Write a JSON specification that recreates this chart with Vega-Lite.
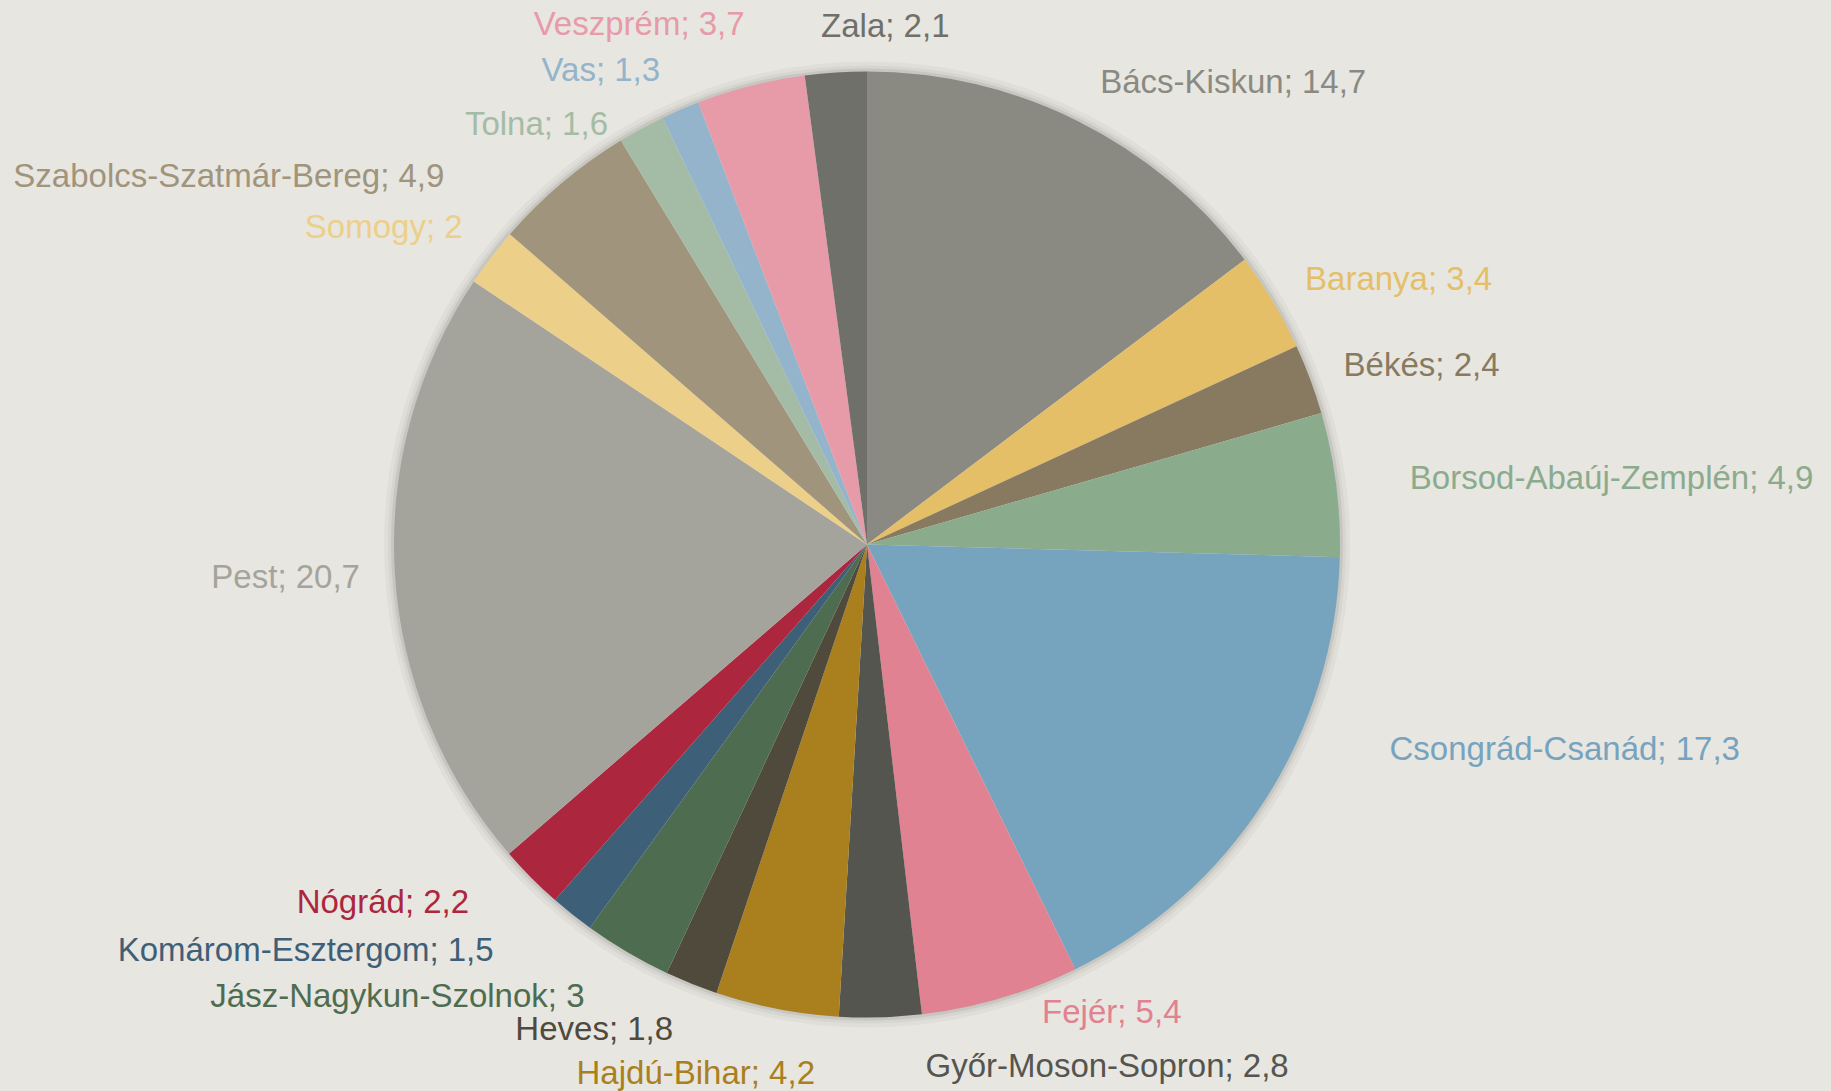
{
  "$schema": "https://vega.github.io/schema/vega-lite/v6.json",
  "width": 1734,
  "height": 1089,
  "autosize": {"type": "none"},
  "padding": {"left": 0, "top": 0, "right": 97, "bottom": 2},
  "background": "#E8E6E0",
  "config": {"view": {"stroke": null}},
  "datasets": {
    "counties": [
      {"order": 1, "name": "Bács-Kiskun", "value": 14.7, "label": "Bács-Kiskun; 14,7"},
      {"order": 2, "name": "Baranya", "value": 3.4, "label": "Baranya; 3,4"},
      {"order": 3, "name": "Békés", "value": 2.4, "label": "Békés; 2,4"},
      {"order": 4, "name": "Borsod-Abaúj-Zemplén", "value": 4.9, "label": "Borsod-Abaúj-Zemplén; 4,9"},
      {"order": 5, "name": "Csongrád-Csanád", "value": 17.3, "label": "Csongrád-Csanád; 17,3"},
      {"order": 6, "name": "Fejér", "value": 5.4, "label": "Fejér; 5,4"},
      {"order": 7, "name": "Győr-Moson-Sopron", "value": 2.8, "label": "Győr-Moson-Sopron; 2,8"},
      {"order": 8, "name": "Hajdú-Bihar", "value": 4.2, "label": "Hajdú-Bihar; 4,2"},
      {"order": 9, "name": "Heves", "value": 1.8, "label": "Heves; 1,8"},
      {"order": 10, "name": "Jász-Nagykun-Szolnok", "value": 3.0, "label": "Jász-Nagykun-Szolnok; 3"},
      {"order": 11, "name": "Komárom-Esztergom", "value": 1.5, "label": "Komárom-Esztergom; 1,5"},
      {"order": 12, "name": "Nógrád", "value": 2.2, "label": "Nógrád; 2,2"},
      {"order": 13, "name": "Pest", "value": 20.7, "label": "Pest; 20,7"},
      {"order": 14, "name": "Somogy", "value": 2.0, "label": "Somogy; 2"},
      {"order": 15, "name": "Szabolcs-Szatmár-Bereg", "value": 4.9, "label": "Szabolcs-Szatmár-Bereg; 4,9"},
      {"order": 16, "name": "Tolna", "value": 1.6, "label": "Tolna; 1,6"},
      {"order": 17, "name": "Vas", "value": 1.3, "label": "Vas; 1,3"},
      {"order": 18, "name": "Veszprém", "value": 3.7, "label": "Veszprém; 3,7"},
      {"order": 19, "name": "Zala", "value": 2.1, "label": "Zala; 2,1"}
    ]
  },
  "layer": [
    {
      "data": {"values": [{"v": 1}]},
      "mark": {"type": "arc", "outerRadius": 473, "fill": null, "stroke": "#000000", "strokeOpacity": 0.03, "strokeWidth": 20},
      "encoding": {"theta": {"field": "v", "type": "quantitative", "scale": {"domain": [0, 1]}}}
    },
    {
      "data": {"values": [{"v": 1}]},
      "mark": {"type": "arc", "outerRadius": 473, "fill": null, "stroke": "#000000", "strokeOpacity": 0.04, "strokeWidth": 12},
      "encoding": {"theta": {"field": "v", "type": "quantitative", "scale": {"domain": [0, 1]}}}
    },
    {
      "data": {"values": [{"v": 1}]},
      "mark": {"type": "arc", "outerRadius": 473, "fill": null, "stroke": "#000000", "strokeOpacity": 0.07, "strokeWidth": 6},
      "encoding": {"theta": {"field": "v", "type": "quantitative", "scale": {"domain": [0, 1]}}}
    },
    {
      "layer": [
        {
          "data": {"name": "counties"},
          "mark": {"type": "arc", "outerRadius": 473},
          "encoding": {
            "theta": {"field": "value", "type": "quantitative", "stack": true},
            "order": {"field": "order", "type": "quantitative"},
            "color": {"field": "name", "type": "nominal", "legend": null, "sort": null,
              "scale": {
                "domain": ["Bács-Kiskun","Baranya","Békés","Borsod-Abaúj-Zemplén","Csongrád-Csanád","Fejér","Győr-Moson-Sopron","Hajdú-Bihar","Heves","Jász-Nagykun-Szolnok","Komárom-Esztergom","Nógrád","Pest","Somogy","Szabolcs-Szatmár-Bereg","Tolna","Vas","Veszprém","Zala"],
                "range": ["#8A8A82","#E4BF68","#887A60","#8BAB8D","#76A3BE","#E08292","#555550","#AA7F1E","#504A3C","#4D6C50","#3D6078","#AC263E","#A4A49D","#ECCF88","#A0947C","#A4BCA6","#93B4CA","#E79AA7","#6F706A"]
              }
            }
          }
        },
        {
          "data": {"name": "counties"},
          "mark": {
            "type": "text",
            "radius": 514,
            "font": "Liberation Sans",
            "fontSize": 33,
            "baseline": "middle",
            "align": {"expr": "(datum.order <= 7 || datum.order == 19) ? 'left' : 'right'"},
            "dx": {"expr": "[4, -3, -5, 33, 90, 30, 44, 46, -3, -22, -53, -33, 6, 4, -91, -14, -4, 4, -12][datum.order - 1]"},
            "dy": {"expr": "[-1, -1, 1, 0, -72, -25, 9, 25, 8, 9, 5, -4, 2, -4, 25, 32, -1, -21, -5][datum.order - 1]"}
          },
          "encoding": {
            "theta": {"field": "value", "type": "quantitative", "stack": true},
            "order": {"field": "order", "type": "quantitative"},
            "text": {"field": "label", "type": "nominal"},
            "color": {"field": "name", "type": "nominal", "legend": null, "sort": null}
          }
        }
      ]
    }
  ],
  "resolve": {"scale": {"theta": "independent"}}
}
